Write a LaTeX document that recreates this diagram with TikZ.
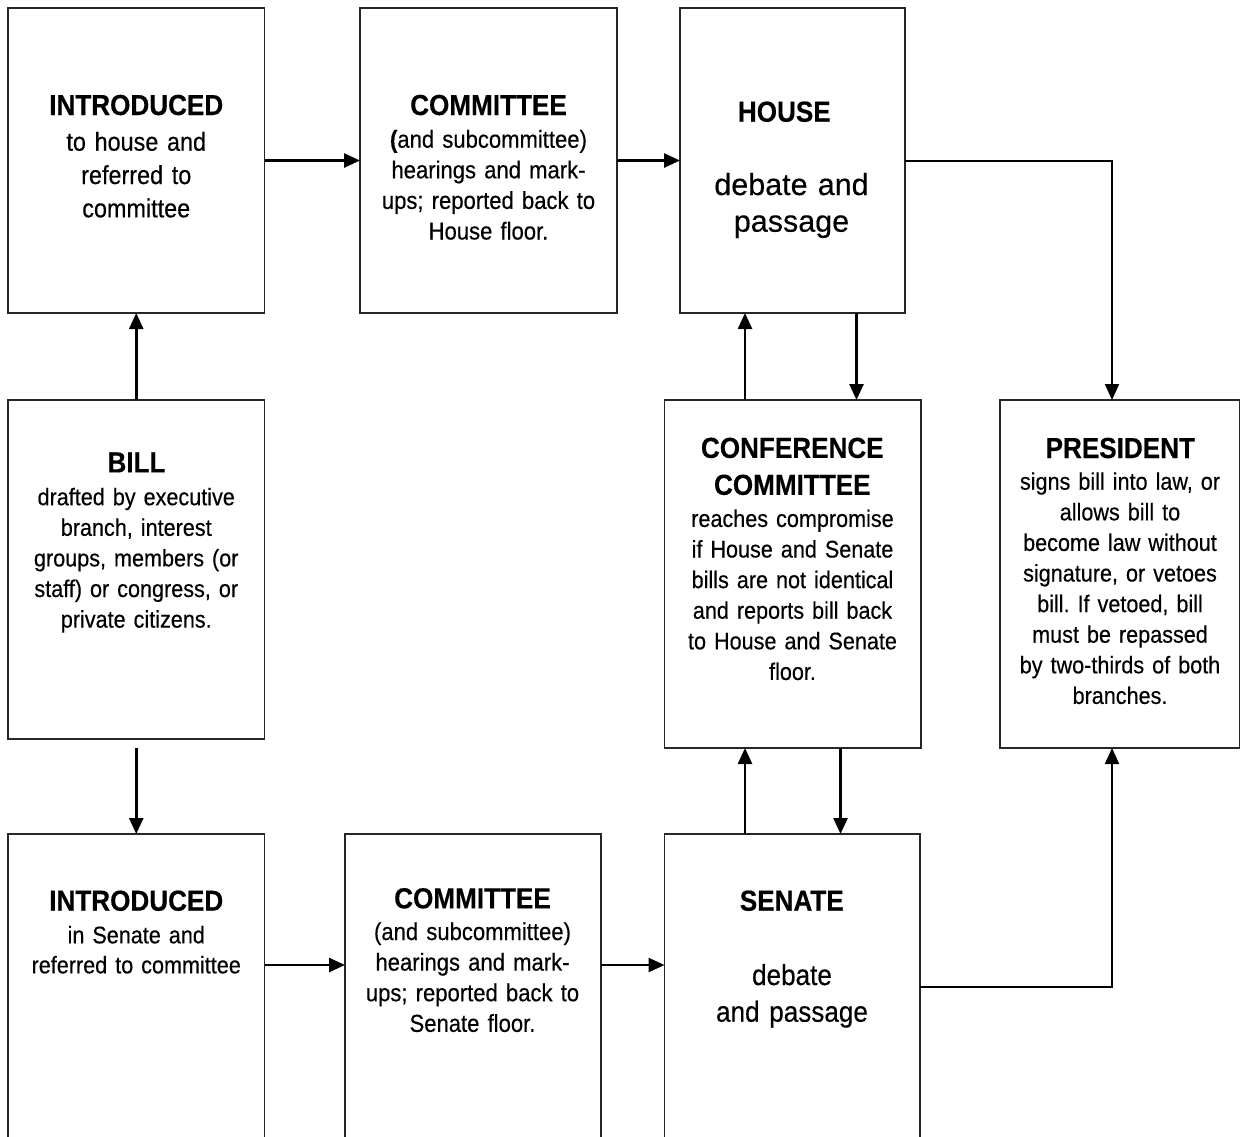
\documentclass[tikz,border=0pt]{standalone}
\usepackage{fontspec}
\setmainfont{Liberation Sans}[FakeStretch=0.9,WordSpace=0.75,FakeBold=0.35,BoldFeatures={FakeBold=0.35}]
\newfontfamily\widefont{Liberation Sans}[FakeBold=0.35]
\usetikzlibrary{arrows.meta}
\frenchspacing
\begin{document}
\begin{tikzpicture}[x=1pt,y=-1pt,
  box/.style={draw=black!85, line width=1.8pt, rectangle, inner sep=0pt, outer sep=0pt},
  arr/.style={draw=black, line width=2.5pt, -{Triangle[length=16pt,width=14pt]}},
  thinarr/.style={draw=black, line width=2pt, -{Triangle[length=16pt,width=14pt]}},
  ttl/.style={anchor=base, inner sep=0pt, font=\fontsize{29}{35}\selectfont\bfseries},
  body/.style={anchor=base, inner sep=0pt, text width=250pt, align=center, font=\fontsize{24}{30.6}\selectfont},
]
\useasboundingbox (0,0) rectangle (1241,1136);
\fill[white] (0,0) rectangle (1241,1136);
\clip (0,0) rectangle (1241,1136);

% boxes
\node[box, minimum width=256.5pt, minimum height=305pt] (introH) at (136.25,160.5) {};
\node[box, minimum width=257pt, minimum height=305pt] (commH) at (488.5,160.5) {};
\node[box, minimum width=225pt, minimum height=305pt] (house) at (792.5,160.5) {};
\node[box, minimum width=256.5pt, minimum height=339pt] (bill) at (136.25,569.5) {};
\node[box, minimum width=256.5pt, minimum height=348pt] (conf) at (792.75,574) {};
\node[box, minimum width=239.5pt, minimum height=348pt] (pres) at (1119.75,574) {};
\node[box, minimum width=256.5pt, minimum height=305pt] (introS) at (136.25,986.5) {};
\node[box, minimum width=256pt, minimum height=305pt] (commS) at (473,986.5) {};
\node[box, minimum width=255.5pt, minimum height=305pt] (senate) at (792.25,986.5) {};

% texts
\node[ttl] (introHt) at (136.25,115) {INTRODUCED};
\node[body, font=\fontsize{26}{33.3}\selectfont] (introHb) at (136.25,150.7) {to house and\\referred to\\committee};

\node[ttl] (commHt) at (488.5,115) {COMMITTEE};
\node[body, font=\fontsize{24.5}{30.6}\selectfont] (commHb) at (488.5,147.7) {\textbf{(}and subcommittee)\\hearings and mark-\\ups; reported back to\\House floor.};

\node[ttl] (houset) at (784.3,121.7) {HOUSE};
\node[body, font=\widefont\fontsize{30.5}{36.7}\selectfont] (houseb) at (791.5,195) {debate and\\passage};

\node[ttl] (billt) at (136.5,472.4) {BILL};
\node[body] (billb) at (136.25,505.2) {drafted by executive\\branch, interest\\groups, members (or\\staff) or congress, or\\private citizens.};

\node[ttl, text width=250pt, align=center, font=\fontsize{29}{36.9}\selectfont\bfseries] (conft) at (792.3,457.9) {CONFERENCE\\COMMITTEE};
\node[body] (confb) at (792.5,526.9) {reaches compromise\\if House and Senate\\bills are not identical\\and reports bill back\\to House and Senate\\floor.};

\node[ttl] (prest) at (1120.3,458) {PRESIDENT};
\node[body] (presb) at (1120,489.7) {signs bill into law, or\\allows bill to\\become law without\\signature, or vetoes\\bill. If vetoed, bill\\must be repassed\\by two-thirds of both\\branches.};

\node[ttl] (introSt) at (136.25,910.7) {INTRODUCED};
\node[body, font=\fontsize{24}{30}\selectfont] (introSb) at (136.25,943.3) {in Senate and\\referred to committee};

\node[ttl] (commSt) at (472.5,908.3) {COMMITTEE};
\node[body, font=\fontsize{24.5}{30.6}\selectfont] (commSb) at (472.5,940) {(and subcommittee)\\hearings and mark-\\ups; reported back to\\Senate floor.};

\node[ttl] (senatet) at (791.8,910.7) {SENATE};
\node[body, font=\fontsize{29}{36.7}\selectfont] (senateb) at (792,985) {debate\\and passage};

% helper coordinates
\coordinate (billdn) at (136.25,747.5);
\coordinate (rowS) at (0,965);
\coordinate (xup) at (745,0);
\coordinate (xdnH) at (856.5,0);
\coordinate (xdnS) at (840.5,0);
\coordinate (xpres) at (1112,0);

% connectors
\draw[arr] (bill.north) -- (introH.south);
\draw[arr] (billdn) -- (introS.north);
\draw[arr] (introH.east) -- (commH.west);
\draw[arr] (commH.east) -- (house.west);
\draw[arr] (introS.east |- rowS) -- (commS.west |- rowS);
\draw[arr] (commS.east |- rowS) -- (senate.west |- rowS);
\draw[arr] (conf.north -| xup) -- (house.south -| xup);
\draw[arr] (house.south -| xdnH) -- (conf.north -| xdnH);
\draw[arr] (senate.north -| xup) -- (conf.south -| xup);
\draw[arr] (conf.south -| xdnS) -- (senate.north -| xdnS);
\draw[thinarr] (house.east) -| (pres.north -| xpres);
\draw[thinarr] (senate.east) -| (pres.south -| xpres);
\end{tikzpicture}
\end{document}
